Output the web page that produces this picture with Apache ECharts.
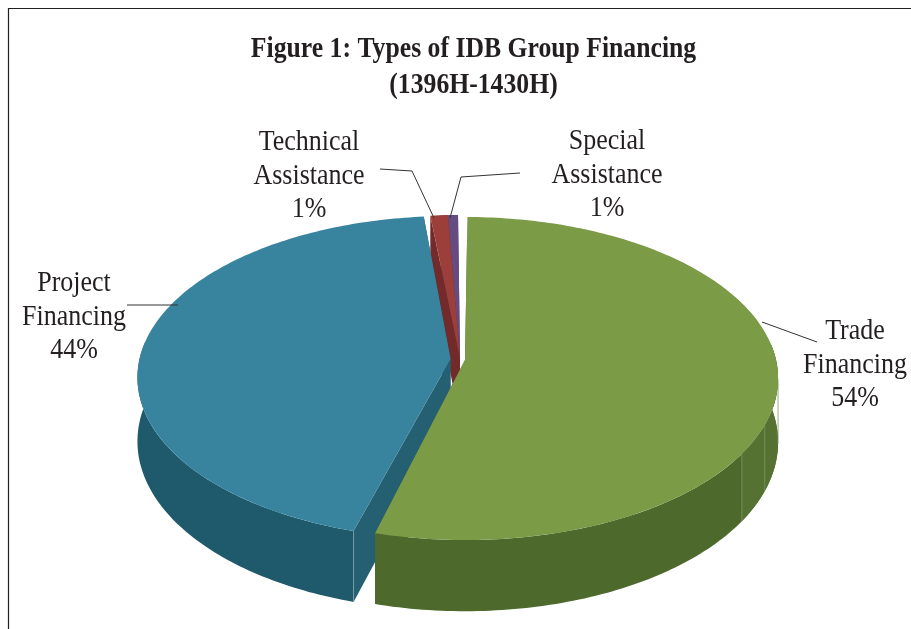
<!DOCTYPE html>
<html>
<head>
<meta charset="utf-8">
<style>html,body{margin:0;padding:0;background:#fff}#chart{width:911px;height:629px}</style>
<script src="https://cdn.jsdelivr.net/npm/echarts@6/dist/echarts.min.js"></script>
</head>
<body>
<div id="chart"></div>
<script>
// Financing shares, in percent
const categories = ['Trade\nFinancing', 'Project\nFinancing', 'Technical\nAssistance', 'Special\nAssistance'];
const values = [54, 44, 1, 1];
const titleLines = ['Figure 1: Types of IDB Group Financing', '(1396H-1430H)'];

// Colours per slice: top face, outer wall, cut face
const topColors = ['#7C9B47', '#38849E', '#9C3F3B', '#664B80'];
const wallColors = ['#4D692C', '#1F5A6C', '#722B2A', '#4A3560'];
const faceColors = ['#4D692C', '#245F72', '#722B2A', '#4A3560'];

// Exploded apex of each slice, a small turn of its own, its label and leader line
const apex = [[465, 360], [450.5, 359], [460, 358], [460, 358]];
const sliceTurn = [0, 1.2, 0.6, -0.9];
const labelPos = [[855, 365], [74, 317], [309, 176], [607, 175]];
const leaders = [
  [[762, 322], [817, 342]],
  [[127, 305], [178, 305]],
  [[380, 169], [412, 171], [434, 218]],
  [[520, 173], [461, 177], [450, 218]]
];
// Paint order: back slices first, the large front slice last
const paintRank = [4, 3, 2, 1];
// Facet joints on the outer wall, as clock angles in degrees
const wallSeams = [[97, 113, 123.5], [], [], []];

// Perspective disc: rx/ry are the radii, tilt narrows the far side, depth is the wall height
const rx = 311, ry = 159.4, tilt = 0.1146, depth = 63;
const startDeg = 0.5;

// Glyphs in the figure are set narrow and tall
const textStretch = 1.12;

function project(deg, radius, a, low) {
  const t = deg * Math.PI / 180;
  const u = Math.sin(t) * radius, v = -Math.cos(t) * radius;
  const f = 1 / (1 - tilt * v);
  return [a[0] + rx * u * f, a[1] + ry * v * f + (low ? depth * f : 0)];
}
function arc(from, to, a, low) {
  const pts = [];
  const n = Math.max(2, Math.ceil(Math.abs(to - from)));
  for (let i = 0; i <= n; i++) pts.push(project(from + (to - from) * i / n, 1, a, low));
  return pts;
}
function poly(points, color, z2) {
  return { type: 'polygon', z2, shape: { points }, style: { fill: color } };
}

function renderSlice(params, api) {
  const i = params.dataIndex;
  const total = values.reduce((s, x) => s + x, 0);
  let before = 0;
  for (let j = 0; j < i; j++) before += values[j];
  const from = startDeg + sliceTurn[i] + before / total * 360;
  const to = from + api.value(0) / total * 360;
  const a = apex[i];
  const rank = paintRank[i] * 10;
  const children = [];

  // Cut faces on both sides of the slice
  [from, to].forEach(d => {
    children.push(poly([[a[0], a[1]], project(d, 1, a, false), project(d, 1, a, true), project(d, 0, a, true)], faceColors[i], rank));
  });

  // Outer wall, only where it faces the viewer
  const wFrom = Math.max(from, 84), wTo = Math.min(to, 276);
  if (wTo > wFrom) {
    children.push(poly(arc(wFrom, wTo, a, false).concat(arc(wFrom, wTo, a, true).reverse()), wallColors[i], rank + 1));
  }
  // Slightly lighter facets and their joints
  const seams = wallSeams[i];
  if (seams.length) {
    children.push(poly(arc(wFrom, seams[2], a, false).concat(arc(wFrom, seams[2], a, true).reverse()), '#567233', rank + 2));
    seams.forEach(d => {
      const p = project(d, 1, a, false), q = project(d, 1, a, true);
      children.push({ type: 'line', z2: rank + 3, shape: { x1: p[0], y1: p[1], x2: q[0], y2: q[1] }, style: { stroke: '#7F9462', lineWidth: 0.8 } });
    });
  }
  // Joint where the blue wall meets its cut face
  if (i === 1) {
    const p = project(from, 1, a, false), q = project(from, 1, a, true);
    children.push({ type: 'line', z2: rank + 3, shape: { x1: p[0], y1: p[1], x2: q[0], y2: q[1] }, style: { stroke: '#7FA3AF', lineWidth: 0.8 } });
  }

  // Top face
  children.push(poly([[a[0], a[1]]].concat(arc(from, to, a, false)), topColors[i], rank + 4));
  return { type: 'group', children };
}

// Frame, title, leader lines and slice labels
const graphics = [
  { type: 'polyline', shape: { points: [[8.5, 629], [8.5, 8.5], [911, 8.5]] }, style: { fill: null, stroke: '#231F20', lineWidth: 1.2 }, z: 1 },
  {
    type: 'text', z: 6, x: 473.5, y: 68, scaleY: textStretch,
    style: {
      text: titleLines.join('\n'), fill: '#231F20', font: 'bold 25.7px "Liberation Serif"',
      lineHeight: 36 / textStretch, align: 'center', verticalAlign: 'middle'
    }
  }
];
leaders.forEach(points => {
  graphics.push({ type: 'polyline', z: 5, shape: { points }, style: { fill: null, stroke: '#333', lineWidth: 1 } });
});
categories.forEach((name, i) => {
  graphics.push({
    type: 'text', z: 6, x: labelPos[i][0], y: labelPos[i][1], scaleY: textStretch,
    style: {
      text: name + '\n' + values[i] + '%',
      fill: '#231F20', font: '26px "Liberation Serif"', lineHeight: 33.5 / textStretch,
      align: 'center', verticalAlign: 'middle'
    }
  });
});

const chart = echarts.init(document.getElementById('chart'), null, { renderer: 'canvas' });
chart.setOption({
  animation: false,
  backgroundColor: '#fff',
  graphic: graphics,
  series: [{
    type: 'custom',
    coordinateSystem: 'none',
    silent: true,
    renderItem: renderSlice,
    data: values.map(v => [v])
  }]
});
</script>
</body>
</html>
